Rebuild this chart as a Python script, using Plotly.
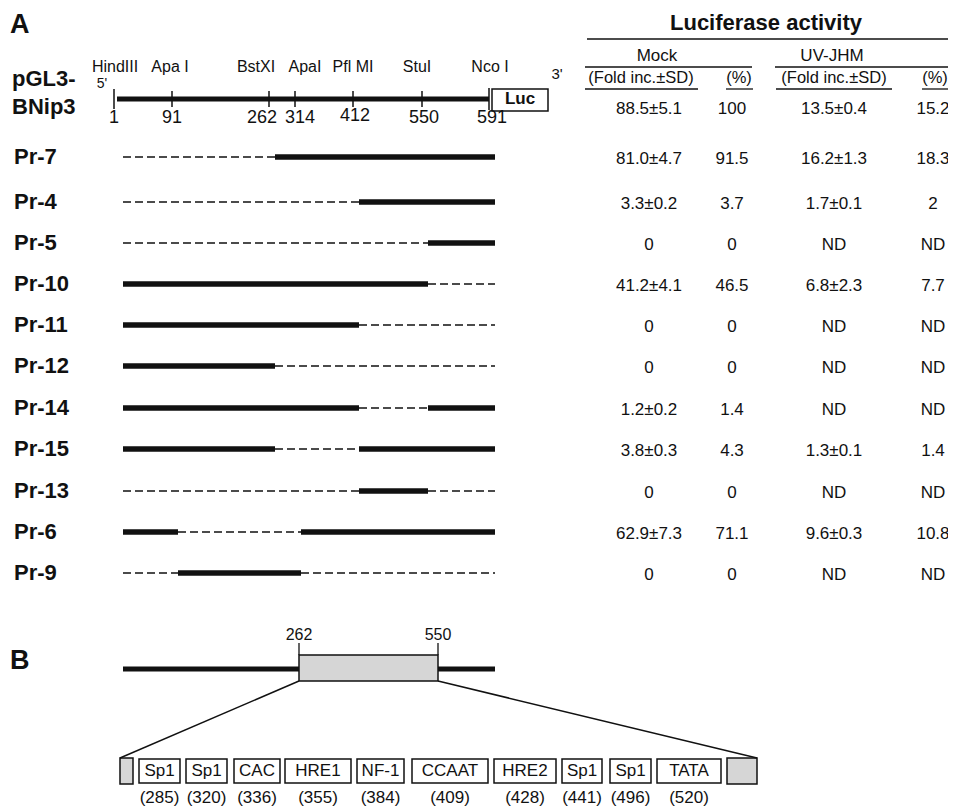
import numpy as np
import plotly.graph_objects as go

# ------------------------------------------------------------------ data
site_names = ["HindIII", "Apa I", "BstXI", "ApaI", "Pfl MI", "StuI", "Nco I"]
site_nt = [1, 91, 262, 314, 412, 550, 591]

construct_names = ["Pr-7", "Pr-4", "Pr-5", "Pr-10", "Pr-11", "Pr-12",
                   "Pr-14", "Pr-15", "Pr-13", "Pr-6", "Pr-9"]
# retained promoter regions (nt start, nt end); everything else is deleted
retained_regions = [
    [(262, 591)],
    [(412, 591)],
    [(550, 591)],
    [(1, 550)],
    [(1, 412)],
    [(1, 262)],
    [(1, 412), (550, 591)],
    [(1, 262), (412, 591)],
    [(412, 550)],
    [(1, 91), (314, 591)],
    [(91, 314)],
]

# luciferase activity table: first entry = full-length pGL3-BNip3
mock_fold = [88.5, 81.0, 3.3, 0, 41.2, 0, 0, 1.2, 3.8, 0, 62.9, 0]
mock_sd = [5.1, 4.7, 0.2, None, 4.1, None, None, 0.2, 0.3, None, 7.3, None]
mock_pct = [100, 91.5, 3.7, 0, 46.5, 0, 0, 1.4, 4.3, 0, 71.1, 0]
uv_fold = [13.5, 16.2, 1.7, None, 6.8, None, None, None, 1.3, None, 9.6, None]
uv_sd = [0.4, 1.3, 0.1, None, 2.3, None, None, None, 0.1, None, 0.3, None]
uv_pct = [15.2, 18.3, 2, None, 7.7, None, None, None, 1.4, None, 10.8, None]

# panel B: minimal promoter region and predicted elements
region_nt = [262, 550]
element_names = ["Sp1", "Sp1", "CAC", "HRE1", "NF-1", "CCAAT", "HRE2", "Sp1", "Sp1", "TATA"]
element_pos = [285, 320, 336, 355, 384, 409, 428, 441, 496, 520]

# ------------------------------------------------------------------ layout (schematic positions, px)
W, H = 956, 810
PAD = 8                      # page body margin of the html page
FONT = "Liberation Sans, Arial, Helvetica, sans-serif"
map_x = [117, 172, 269, 295, 353, 422, 489]          # schematic x of the sites (map)
row_shift = 6                                           # construct rows are drawn slightly right
map_y = 99
row_y = [157, 202, 243, 284, 325, 366, 408, 449, 491, 532, 573]
table_cols = [649, 732, 834, 933]
name_dx = [-2, -2, -13, 10, 0, -5, 1]
num_dx = [-3, 0, -7, 5, 2, 2, 3]

b_map_nt = [1, 262, 550, 591]
b_map_x = [123, 299, 438, 495]
b_line_y = 669
box_x0 = [139, 186, 234, 285, 357, 412, 494, 562, 610, 657]
box_x1 = [180, 227, 280, 351, 404, 488, 556, 602, 651, 721]
box_y0, box_y1 = 759, 783
end_box_left = (120, 133)
end_box_right = (727, 757)


def X(nt):
    return float(np.interp(nt, site_nt, map_x))


def XB(nt):
    return float(np.interp(nt, b_map_nt, b_map_x))


fig = go.Figure()
shapes = []


def line(x0, y0, x1, y1, width=1.5, dash="solid", color="#111"):
    fig.add_trace(go.Scatter(x=[x0, x1], y=[y0, y1], mode="lines",
                             line=dict(color=color, width=width, dash=dash),
                             hoverinfo="skip", showlegend=False))


def text(x, y, s, size=16, bold=False, anchor="center", color="#111"):
    pos = {"center": "middle center", "left": "middle right", "right": "middle left"}[anchor]
    fig.add_trace(go.Scatter(x=[x], y=[y], mode="text",
                             text=["<b>%s</b>" % s if bold else s],
                             textposition=pos,
                             textfont=dict(family=FONT, size=size, color=color),
                             hoverinfo="skip", showlegend=False))


def rect(x0, y0, x1, y1, fill="white", lw=1.5):
    shapes.append(dict(type="rect", xref="x", yref="y", x0=x0, x1=x1, y0=y0, y1=y1,
                       line=dict(color="#111", width=lw), fillcolor=fill, layer="below"))


# ------------------------------------------------------------------ panel A: map
text(10, 26, "A", size=27, bold=True, anchor="left")
text(12, 80, "pGL3-", size=22, bold=True, anchor="left")
text(12, 108, "BNip3", size=22, bold=True, anchor="left")
text(102, 84, "5'", size=14)
text(557, 75, "3'", size=15)

line(X(site_nt[0]), map_y, X(site_nt[-1]), map_y, width=5)
for i, (nm, nt) in enumerate(zip(site_names, site_nt)):
    xs = X(nt)
    if i == 0:
        line(xs - 3, 89, xs - 3, 109, width=1.5)
    elif i == len(site_nt) - 1:
        line(xs, 88, xs, 110, width=1.5)
    else:
        line(xs, 91, xs, 107, width=1.5)
    text(xs + name_dx[i], 68, nm, size=16)
    text(xs + num_dx[i], 118 if nt != 412 else 116, str(nt), size=18)

rect(X(site_nt[-1]) + 3, 89, X(site_nt[-1]) + 59, 111)
text(X(site_nt[-1]) + 31, 100, "Luc", size=17, bold=True)

# ------------------------------------------------------------------ panel A: deletion constructs
for name, regions, y in zip(construct_names, retained_regions, row_y):
    text(14, y + 1, name, size=22, bold=True, anchor="left")
    edges = sorted({site_nt[0], site_nt[-1]} | {p for r in regions for p in r})
    for a, b in zip(edges[:-1], edges[1:]):
        kept = any(r0 <= a and b <= r1 for r0, r1 in regions)
        x0, x1 = X(a) + row_shift, X(b) + row_shift
        if kept:
            line(x0, y, x1, y, width=5.5)
        else:
            line(x0, y, x1, y, width=1.5, dash="8px,4px")

# ------------------------------------------------------------------ panel A: luciferase table
text(766, 24, "Luciferase activity", size=22, bold=True)
shapes.append(dict(type="line", xref="x", yref="y", x0=587, x1=952, y0=39, y1=39,
                   line=dict(color="#111", width=1.5)))
text(657, 57, "Mock", size=17)
text(832, 57, "UV-JHM", size=17)
for x0, x1 in [(585, 752), (775, 948)]:
    shapes.append(dict(type="line", xref="x", yref="y", x0=x0, x1=x1, y0=67, y1=67,
                       line=dict(color="#111", width=1.5)))
for cx, s, (u0, u1) in [(641, "(Fold inc.±SD)", (585, 698)), (739, "(%)", (726, 753)),
                        (834, "(Fold inc.±SD)", (776, 892)), (935, "(%)", (922, 948))]:
    text(cx, 79, s, size=16.5)
    shapes.append(dict(type="line", xref="x", yref="y", x0=u0, x1=u1, y0=89, y1=89,
                       line=dict(color="#111", width=1.3)))


def fmt_fold(v, sd):
    if v is None:
        return "ND"
    if sd is None:
        return "%g" % v
    return "%.1f±%.1f" % (v, sd)


def fmt_pct(v):
    return "ND" if v is None else "%g" % v


table_y = [110] + [y + 3 for y in row_y]
for i, ty in enumerate(table_y):
    vals = [fmt_fold(mock_fold[i], mock_sd[i]), fmt_pct(mock_pct[i]),
            fmt_fold(uv_fold[i], uv_sd[i]), fmt_pct(uv_pct[i])]
    for cx, s in zip(table_cols, vals):
        text(cx, ty, s, size=17)

# ------------------------------------------------------------------ panel B
text(10, 662, "B", size=27, bold=True, anchor="left")
line(XB(1), b_line_y, XB(591), b_line_y, width=5)
rx0, rx1 = XB(region_nt[0]), XB(region_nt[1])
for nt, xx in zip(region_nt, (rx0, rx1)):
    line(xx, 643, xx, 655, width=1.3)
    text(xx, 636, str(nt), size=16)

line(rx0, 681, end_box_left[0], box_y0 - 1, width=1.5)
line(rx1, 681, end_box_right[1], box_y0 - 1, width=1.5)

rect(end_box_left[0], box_y0 - 1, end_box_left[1], box_y1 + 1, fill="#d6d6d6")
rect(end_box_right[0], box_y0 - 1, end_box_right[1], box_y1 + 1, fill="#d6d6d6")
for nm, pos, x0, x1 in zip(element_names, element_pos, box_x0, box_x1):
    rect(x0, box_y0, x1, box_y1)
    text((x0 + x1) / 2, (box_y0 + box_y1) / 2 + 1, nm, size=17)
    text((x0 + x1) / 2, 799, "(%d)" % pos, size=17)

# gray region box drawn above the thick line
region_box = dict(type="rect", xref="x", yref="y", x0=rx0, x1=rx1, y0=655, y1=681,
                  line=dict(color="#111", width=1.5), fillcolor="#d6d6d6", layer="above")
shapes.append(region_box)

fig.update_layout(
    width=W - PAD, height=H - PAD, margin=dict(l=0, r=0, t=0, b=0),
    paper_bgcolor="white", plot_bgcolor="white",
    xaxis=dict(range=[PAD, W], visible=False, fixedrange=True),
    yaxis=dict(range=[H, PAD], visible=False, fixedrange=True),
    shapes=shapes, showlegend=False,
)
fig.write_html("out.html")
